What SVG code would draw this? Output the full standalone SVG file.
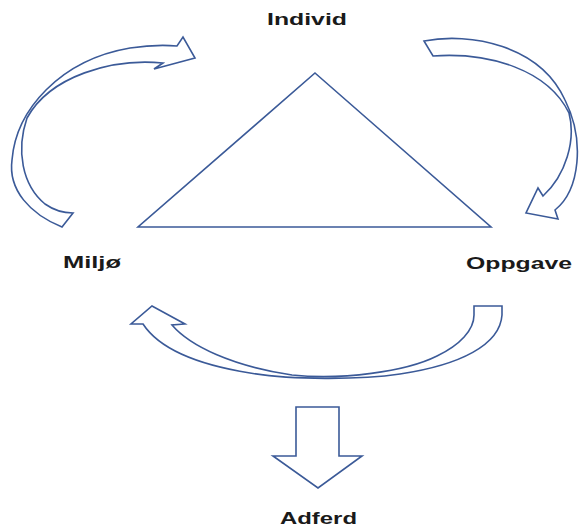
<svg xmlns="http://www.w3.org/2000/svg" width="581" height="527" viewBox="0 0 581 527">
<style>
.shape{fill:#ffffff;stroke:#3b5a98;stroke-width:1.6;stroke-linejoin:miter}
.lbl{font-family:"Liberation Sans",Arial,sans-serif;font-weight:bold;font-size:17px;fill:#1a1a1a}
</style>
<rect width="581" height="527" fill="#ffffff"/>
<g id="triangle">
<polygon class="shape" points="315,73 491,227 138,227"/>
</g>
<g id="connectors">
<path id="arrow-miljo-individ" class="shape" d="M62,227 C30,214 8,190 12,160 C16,110 60,60 130,48 C150,45 165,45 177,46 L183,37 L195,58 L154,69 L163,63 C112,58 50,76 27,118 C16,150 22,185 45,204 C55,211 65,213 73,213 Z"/>
<path id="arrow-individ-oppgave" class="shape" d="M424,41 C470,32 540,45 565,100 C585,140 580,190 555,210 L558,219 L526,213 L538,188 L543,196 C566,175 576,140 569,113 C548,70 490,52 433,56 Z"/>
<path id="arrow-oppgave-miljo" class="shape" d="M502,306 L502,315 C500,345 460,365 400,374 C360,380 290,380 250,373 C200,365 160,350 143,324 L131,324 L152,306 L185,324 L172,325 C190,346 232,366 292,375 C342,380 405,372 437,356 C460,345 474,330 474,315 L474,306 Z"/>
<path id="arrow-adferd" class="shape" d="M296,407 L339,407 L339,456 L362,456 L318,488 L273,456 L296,456 Z"/>
</g>
<g id="node-individ"><text class="lbl" x="267" y="25" textLength="80" lengthAdjust="spacingAndGlyphs">Individ</text></g>
<g id="node-miljo"><text class="lbl" x="63" y="268" textLength="58" lengthAdjust="spacingAndGlyphs">Miljø</text></g>
<g id="node-oppgave"><text class="lbl" x="466" y="269" textLength="106" lengthAdjust="spacingAndGlyphs">Oppgave</text></g>
<g id="node-adferd"><text class="lbl" x="280" y="524" textLength="77" lengthAdjust="spacingAndGlyphs">Adferd</text></g>
</svg>
